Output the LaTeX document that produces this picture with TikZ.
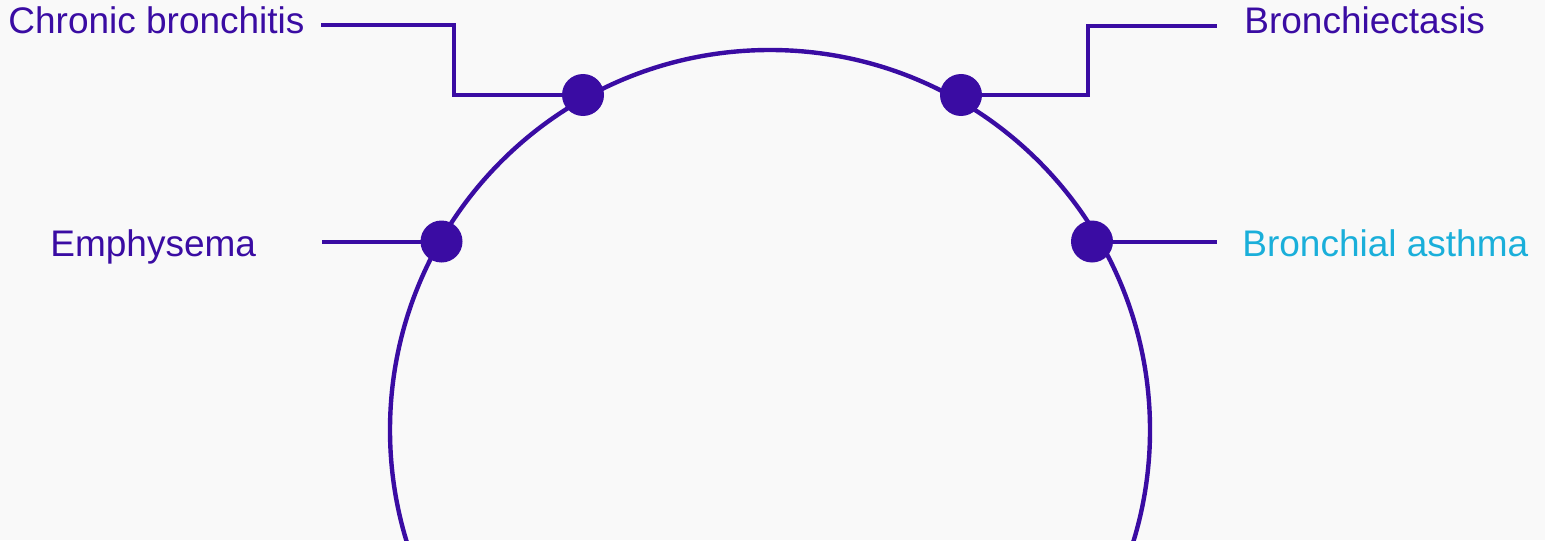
\documentclass[tikz,border=0pt]{standalone}
\usepackage{fontspec}
\setmainfont{Liberation Sans}
\usetikzlibrary{backgrounds}
\definecolor{pur}{RGB}{58,12,163}
\definecolor{cyn}{RGB}{26,175,218}
\definecolor{bgc}{RGB}{249,249,249}
\begin{document}
\begin{tikzpicture}[x=0.5pt,y=-0.5pt,
  lbl/.style={inner sep=0,anchor=base west,font=\fontsize{18.5}{22}\selectfont,text=pur},
  dot/.style={circle,fill=pur,inner sep=0,minimum size=21pt},
  conn/.style={draw=pur,line width=2pt},
  ring/.style={draw=pur,line width=2.2pt}]
\useasboundingbox (0,0) rectangle (1545,540);
% dots
\node[dot] (d1) at (583,95) {};
\node[dot] (d2) at (961,95) {};
\node[dot] (d3) at (441.5,241.5) {};
\node[dot] (d4) at (1092,241.5) {};
% labels
\node[lbl] (t1) at (8,34) {Chronic bronchitis};
\node[lbl] (t2) at (1244,33.5) {Bronchiectasis};
\node[lbl] (t3) at (50,256.7) {Emphysema};
\node[lbl,text=cyn] (t4) at (1242,256.7) {Bronchial asthma};
% connector ends
\coordinate (c1) at (321,25);
\coordinate (k1) at (454,95);
\coordinate (k2) at (1088,95);
\coordinate (c2) at (1217,26.5);
\coordinate (c3) at (322,241.5);
\coordinate (c4) at (1217,241.5);
\begin{pgfonlayer}{background}
\fill[bgc] (0,0) rectangle (1545,540);
\begin{scope}
\clip (0,0) rectangle (1545,540);
\draw[ring] (770,430) circle[radius=380];
\end{scope}
\draw[conn] (c1) -| (k1) -- (d1.center);
\draw[conn] (d2.center) -- (k2) |- (c2);
\draw[conn] (c3) -- (d3.center);
\draw[conn] (d4.center) -- (c4);
\end{pgfonlayer}
\end{tikzpicture}
\end{document}
